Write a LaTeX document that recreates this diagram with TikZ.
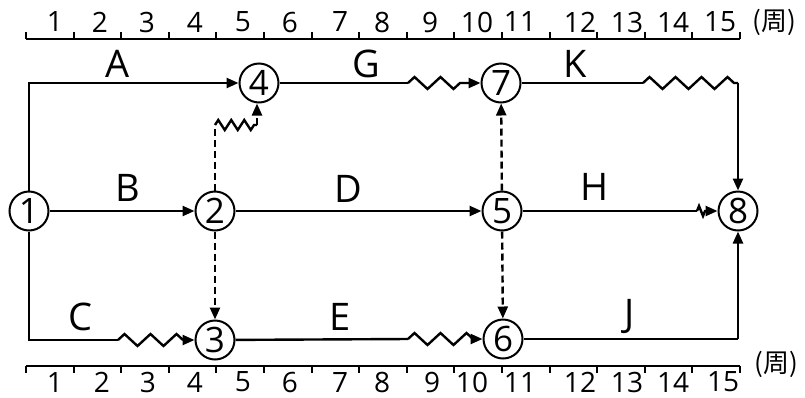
\documentclass[tikz,border=0pt]{standalone}
\usepackage{fontspec}
\setmainfont{Open Sans}
\newfontfamily\cjk{Noto Sans CJK SC}
\usetikzlibrary{arrows.meta,decorations.pathmorphing}
\tikzset{
 ev/.style={circle,draw,line width=2pt,minimum size=39pt,inner sep=0pt,font=\fontsize{35}{35}\selectfont},
 act/.style={line width=2.4pt},
 arr/.style={act,-{Triangle[length=12pt,width=10pt]}},
 dum/.style={arr,dash pattern=on 7pt off 4pt},
 dline/.style={act,dash pattern=on 7pt off 4pt},
 zz/.style={act,decorate,decoration={zigzag,segment length=26pt,amplitude=6pt}},
 lab/.style={font=\fontsize{38}{38}\selectfont},
 num/.style={inner sep=0pt,font=\fontsize{28}{28}\selectfont},
 unit/.style={inner sep=0pt,font=\fontsize{26}{26}\selectfont\cjk},
 axis/.style={line width=2pt},
}
\begin{document}
\begin{tikzpicture}[x=1pt,y=-1pt]
\useasboundingbox (0,0) rectangle (805,397);
% axes
\coordinate (ta0) at (26,39);
\coordinate (ta1) at (740,39);
\draw[axis] (ta0) -- (ta1);
\foreach \i in {0,...,15} \draw[axis] (26+47.6*\i,39) -- (26+47.6*\i,32);
\foreach \x [count=\n] in {55,100,147,195,243,290,340,382,430,477,520,580,627,673,720}
  \node[num] (tl\n) at (\x,22) {\n};
\node[unit] (tu) at (774,22) {(周)};
\coordinate (ba0) at (26,366);
\coordinate (ba1) at (740,366);
\draw[axis] (ba0) -- (ba1);
\foreach \i in {0,...,15} \draw[axis] (26+47.6*\i,366) -- (26+47.6*\i,373);
\foreach \x [count=\n] in {55,102,148,195,243,290,340,382,432,472,520,580,627,673,723}
  \node[num] (bl\n) at (\x,382) {\n};
\node[unit] (bu) at (776,364) {(周)};
% events
\node[ev] (n1) at (29,211) {1};
\node[ev] (n2) at (215,211) {2};
\node[ev] (n3) at (215,340) {3};
\node[ev] (n4) at (259,83) {4};
\node[ev] (n5) at (502,211) {5};
\node[ev] (n6) at (503,339) {6};
\node[ev] (n7) at (501,83) {7};
\node[ev] (n8) at (738,211) {8};
% A
\draw[arr] (n1) |- (n4);
\node[lab] (lA) at (118,64) {A};
% B
\draw[arr] (n1) -- (n2);
\node[lab] (lB) at (128,188) {B};
% C
\coordinate (c1) at (118,340);
\coordinate (c2) at (183,340);
\draw[act] (n1) |- (c1);
\draw[zz] (c1) -- (c2);
\draw[arr] (c2) -- (n3);
\node[lab] (lC) at (80,317) {C};
% D
\draw[arr] (n2) -- (n5);
\node[lab] (lD) at (348,189) {D};
% E
\coordinate (e1) at (408,339);
\coordinate (e2) at (474,339);
\draw[act] (n3) -- (e1);
\draw[zz] (e1) -- (e2);
\draw[arr] (e2) -- (n6);
\node[lab] (lE) at (340,317) {E};
% G
\coordinate (g1) at (408,83);
\coordinate (g2) at (472,83);
\draw[act] (n4) -- (g1);
\draw[zz] (g1) -- (g2);
\draw[arr] (g2) -- (n7);
\node[lab] (lG) at (366,64) {G};
% K
\coordinate (k1) at (643,83);
\coordinate (k2) at (738,83);
\draw[act] (n7) -- (k1);
\draw[zz] (k1) -- (k2);
\draw[arr] (k2) -- (n8);
\node[lab] (lK) at (575,64) {K};
% H
\coordinate (h1) at (697,211);
\coordinate (h2) at (707,211);
\draw[act] (n5) -- (h1);
\draw[act,decorate,decoration={zigzag,segment length=8pt,amplitude=5pt}] (h1) -- (h2);
\draw[arr] (h2) -- (n8);
\node[lab] (lH) at (595,187) {H};
% J
\coordinate (j1) at (738,339);
\draw[act] (n6) -- (j1);
\draw[arr] (j1) -- (n8);
\node[lab] (lJ) at (630,317) {J};
% dummies
\draw[dum] (n2) -- (n3);
\draw[dum] (n5) -- (n7);
\draw[dum] (n5) -- (n6);
\coordinate (d1) at (215,125);
\coordinate (d2) at (257,125);
\draw[dline] (n2) -- (d1);
\draw[act,decorate,decoration={zigzag,segment length=13pt,amplitude=5pt}] (d1) -- (d2);
\draw[dum] (d2) -- (d2 |- n4.south);
\end{tikzpicture}
\end{document}
